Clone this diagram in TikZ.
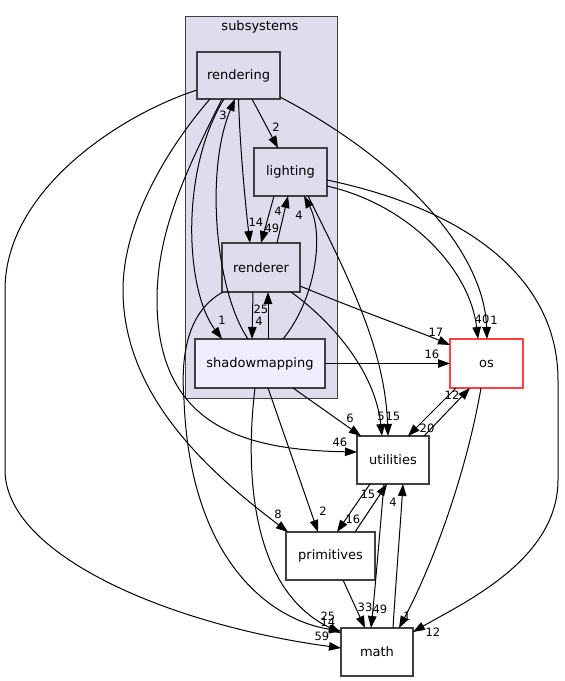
\documentclass[tikz,border=0pt]{standalone}
\usepackage{fontspec}
\setmainfont{DejaVu Sans}
\usetikzlibrary{arrows.meta,calc}
\definecolor{clusterfill}{HTML}{DDDDEE}
\definecolor{curfill}{HTML}{EEEEFF}
\definecolor{nodeborder}{HTML}{404040}
\definecolor{osred}{HTML}{FF4040}
\tikzset{
  dirnode/.style={draw=nodeborder, line width=1.3pt, inner sep=0pt, outer sep=0pt,
    font=\fontsize{13}{15}\selectfont},
  subdir/.style={dirnode, fill=clusterfill},
  curdir/.style={dirnode, fill=curfill},
  plaindir/.style={dirnode, fill=white},
  reddir/.style={dirnode, fill=white, draw=osred},
  dep/.style={draw=black, line width=1pt, -{Triangle[length=12pt,width=8.5pt]}},
  lbl/.style={font=\fontsize{11.5}{13}\selectfont, inner sep=0pt},
  clusterbox/.style={draw=nodeborder, line width=1pt, fill=clusterfill}
}
\begin{document}
\begin{tikzpicture}[x=1pt,y=-1pt]
\useasboundingbox (0,0) rectangle (565,681);
% cluster
\draw[clusterbox] (185,16) rectangle (337,398);
\node[lbl, font=\fontsize{13}{15}\selectfont] (clabel) at (260,27) {subsystems};
% nodes
\node[subdir, minimum width=83pt, minimum height=47pt] (rendering) at (238.5,75.5) {rendering};
\node[subdir, minimum width=73pt, minimum height=48pt] (lighting) at (290.5,172) {lighting};
\node[subdir, minimum width=78pt, minimum height=49pt] (renderer) at (261,267.5) {renderer};
\node[curdir, minimum width=130pt, minimum height=49pt] (shadowmapping) at (260,363.5) {shadowmapping};
\node[reddir, minimum width=73pt, minimum height=49pt] (os) at (486.5,363.5) {os};
\node[plaindir, minimum width=72pt, minimum height=48pt] (utilities) at (393,460) {utilities};
\node[plaindir, minimum width=89pt, minimum height=48pt] (primitives) at (330.5,556) {primitives};
\node[plaindir, minimum width=72pt, minimum height=48pt] (math) at (377,652) {math};
% edges from rendering
\draw[dep] ($(rendering.south)+(13.5,0)$) -- ($(lighting.north)+(-12.5,0)$);
\draw[dep] (rendering.south) .. controls (240,150) and (246,210) .. ($(renderer.north)+(-11,0)$);
\draw[dep] ($(rendering.south)+(-14.5,0)$) .. controls (180,170) and (185,290) .. ($(shadowmapping.north)+(-38,0)$);
\draw[dep] ($(rendering.east)+(0,21.5)$) .. controls (400,160) and (484,250) .. ($(os.north)+(0.5,0)$);
\draw[dep] ($(rendering.west)+(0,14.5)$) .. controls (120,115) and (5,190) .. (5,290) -- (5,470) .. controls (5,555) and (170,625) .. ($(math.west)+(0,-4)$);
\draw[dep] ($(rendering.south)+(-28.5,0)$) .. controls (170,145) and (123,220) .. (123,290) .. controls (123,400) and (217,478) .. ($(primitives.north west)+(2,0)$);
\draw[dep] ($(rendering.south)+(-16.5,0)$) .. controls (187,169) and (157,230) .. (157,300) .. controls (157,430) and (250,450) .. ($(utilities.west)+(0,-8)$);
% edges from lighting
\draw[dep] ($(lighting.south)+(-16.5,0)$) -- (renderer.north);
\draw[dep] ($(lighting.east)+(0,14)$) .. controls (410,205) and (470,270) .. ($(os.north)+(-8.5,0)$);
\draw[dep] ($(lighting.south)+(17.5,0)$) .. controls (350,280) and (385,350) .. ($(utilities.north)+(-5,0)$);
\draw[dep] ($(lighting.east)+(0,8)$) .. controls (470,210) and (558,280) .. (558,380) -- (558,480) .. controls (558,560) and (463,603) .. ($(math.east)+(0,-20)$);
% edges from renderer
\draw[dep] ($(renderer.north)+(16,0)$) -- ($(lighting.south)+(-2.5,0)$);
\draw[dep] ($(renderer.south)+(-8,0)$) -- ($(shadowmapping.north)+(-8,0)$);
\draw[dep] ($(renderer.east)+(0,18.5)$) .. controls (370,315) and (420,332) .. ($(os.west)+(0,-18.5)$);
\draw[dep] ($(renderer.south)+(30,0)$) .. controls (330,320) and (375,370) .. ($(utilities.north)+(-11,0)$);
\draw[dep] ($(renderer.south)+(-38,0)$) .. controls (190,310) and (180,350) .. (184,400) .. controls (190,560) and (270,620) .. ($(math.north west)+(0,3)$);
% edges from shadowmapping
\draw[dep] ($(shadowmapping.north)+(-12,0)$) .. controls (215,290) and (205,170) .. ($(rendering.south)+(-3.5,0)$);
\draw[dep] ($(shadowmapping.north)+(23,0)$) .. controls (315,300) and (325,235) .. ($(lighting.south)+(13.5,0)$);
\draw[dep] ($(shadowmapping.north)+(8,0)$) -- ($(renderer.south)+(7,0)$);
\draw[dep] (shadowmapping.east) -- (os.west);
\draw[dep] ($(shadowmapping.south)+(33,0)$) -- ($(utilities.north)+(-32,0)$);
\draw[dep] ($(shadowmapping.south)+(8,0)$) -- ($(primitives.north)+(-12.5,0)$);
\draw[dep] ($(shadowmapping.south)+(-5,0)$) .. controls (245,470) and (250,590) .. ($(math.north west)+(0,5)$);
% edges from os
\draw[dep] ($(os.south)+(-30.5,0)$) -- ($(utilities.north)+(15,0)$);
\draw[dep] ($(os.south)+(-5.5,0)$) .. controls (465,480) and (430,570) .. ($(math.north)+(22,0)$);
% edges from utilities
\draw[dep] ($(utilities.north)+(31,0)$) -- ($(os.south)+(-16.5,0)$);
\draw[dep] ($(utilities.south)+(-23,0)$) -- ($(primitives.north)+(6.5,0)$);
\draw[dep] ($(utilities.south)+(-9,0)$) .. controls (380,530) and (375,590) .. ($(math.north)+(-6,0)$);
% edges from primitives
\draw[dep] ($(primitives.north)+(24.5,0)$) -- ($(utilities.south)+(-6,0)$);
\draw[dep] ($(primitives.south)+(12.5,0)$) -- ($(math.north)+(-12,0)$);
% edge from math
\draw[dep] ($(math.north)+(16,0)$) .. controls (396,580) and (400,530) .. ($(utilities.south)+(10,0)$);
% labels
\node[lbl] (l1) at (276,127) {2};
\node[lbl] (l2) at (256,222) {14};
\node[lbl] (l3) at (222,320) {1};
\node[lbl] (l4) at (494,320) {1};
\node[lbl] (l5) at (322,636) {59};
\node[lbl] (l6) at (278,514) {8};
\node[lbl] (l7) at (340,442) {46};
\node[lbl] (l8) at (272,228) {49};
\node[lbl] (l9) at (482,319) {40};
\node[lbl] (l10) at (393,416) {15};
\node[lbl] (l11) at (433,632) {12};
\node[lbl] (l12) at (278,211) {4};
\node[lbl] (l13) at (259,321) {4};
\node[lbl] (l14) at (436,332) {17};
\node[lbl] (l15) at (381,416) {5};
\node[lbl] (l16) at (328,622) {14};
\node[lbl] (l17) at (223,115) {3};
\node[lbl] (l18) at (299,215) {4};
\node[lbl] (l19) at (261,309) {25};
\node[lbl] (l20) at (432,354) {16};
\node[lbl] (l21) at (350,418) {6};
\node[lbl] (l22) at (323,511) {2};
\node[lbl] (l23) at (328,616) {25};
\node[lbl] (l24) at (427,428) {20};
\node[lbl] (l25) at (407,616) {1};
\node[lbl] (l26) at (452,395) {12};
\node[lbl] (l27) at (353,519) {16};
\node[lbl] (l28) at (380,609) {49};
\node[lbl] (l29) at (368,494) {15};
\node[lbl] (l30) at (365,607) {33};
\node[lbl] (l31) at (393,502) {4};
\end{tikzpicture}
\end{document}
